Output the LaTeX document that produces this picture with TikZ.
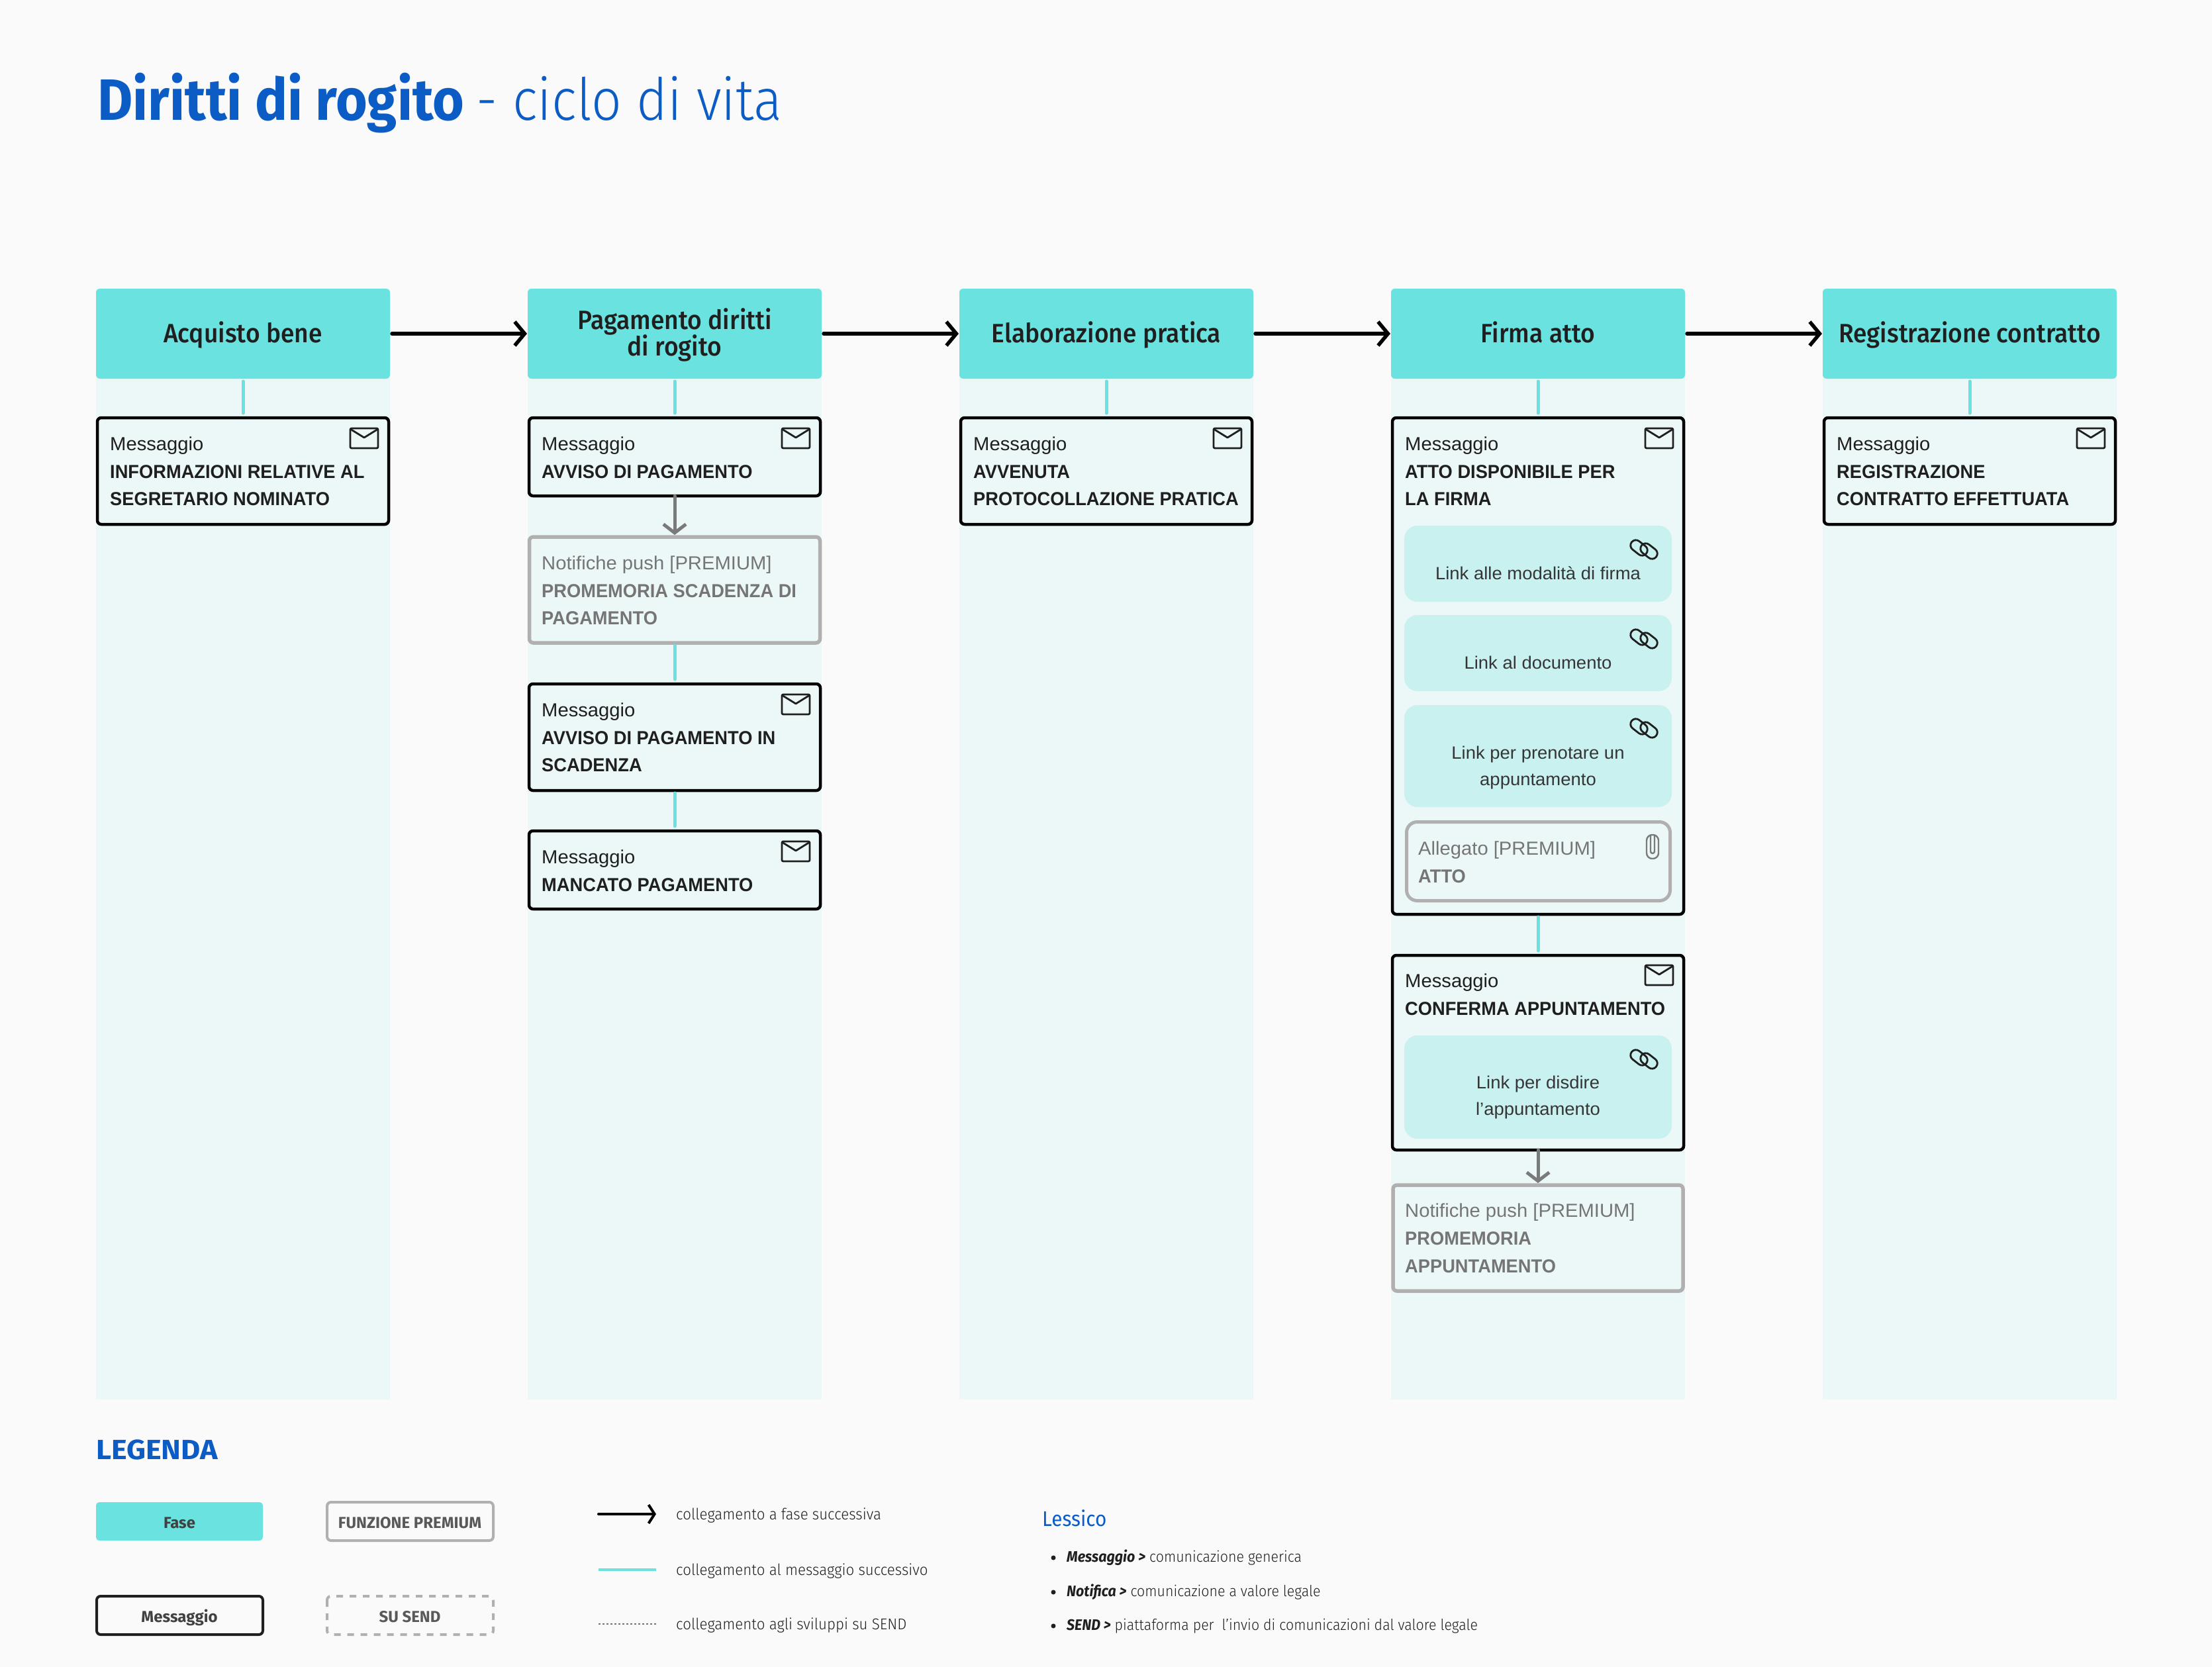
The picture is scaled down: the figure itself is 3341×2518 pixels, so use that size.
\documentclass[tikz,border=0pt]{standalone}
\usepackage{fontspec}
\setmainfont{Liberation Sans}[FakeStretch=1.025,BoldFeatures={FakeStretch=0.957}]
\newfontfamily\tfont{Fira Sans}[FakeStretch=0.93]
\newfontfamily\tlight{Fira Sans Light}[FakeStretch=0.95]
\newfontfamily\ttitle{Fira Sans Light}[FakeStretch=0.91]
\newfontfamily\lexfont{Fira Sans Light}[FakeStretch=0.93]
\newfontfamily\tmed{Fira Sans Medium}[FakeStretch=0.93]
\newfontfamily\tplain{Fira Sans}
\newfontfamily\twide{Fira Sans}[FakeStretch=1.07]
\usetikzlibrary{arrows.meta}
\definecolor{pagebg}{HTML}{FAFAFA}
\definecolor{teal}{HTML}{6AE2E0}
\definecolor{colbg}{HTML}{ECF8F7}
\definecolor{linkbg}{HTML}{C8F1EF}
\definecolor{ink}{HTML}{1F1F1F}
\definecolor{graytext}{HTML}{757575}
\definecolor{grayline}{HTML}{B0B0B0}
\definecolor{grayarrow}{HTML}{7A7A7A}
\definecolor{brand}{HTML}{0B5CC5}
\newcommand{\fs}[1]{\fontsize{#1}{#1}\selectfont}
\newcommand{\ptxt}[1]{\raisebox{0pt}[30pt][4pt]{#1}}
\tikzset{
 x=1pt,y=-1pt,
 phase/.style={fill=teal,rounded corners=6,anchor=north west,minimum width=444,minimum height=136,inner sep=0,outer sep=0,align=center,text=ink,font=\tmed\fs{40}},
 msgbox/.style={draw=black,fill=colbg,line width=4.5,rounded corners=6,anchor=north west,inner sep=0,outer sep=0},
 prembox/.style={draw=grayline,fill=colbg,line width=5.5,rounded corners=6,anchor=north west,inner sep=0,outer sep=0},
 linkbox/.style={fill=linkbg,rounded corners=20},
 lbl/.style={anchor=base west,inner sep=0,text=ink,font=\fs{28.5}},
 bold/.style={anchor=base west,inner sep=0,text=ink,font=\fs{28.5}\bfseries},
 glbl/.style={anchor=base west,inner sep=0,text=graytext,font=\fs{28.5}},
 gbold/.style={anchor=base west,inner sep=0,text=graytext,font=\fs{28.5}\bfseries},
 linktxt/.style={anchor=base,inner sep=0,text=ink!90,font=\fs{26.8}},
 vlink/.style={draw=teal,line width=5,line cap=round,shorten <=4,shorten >=7},
 flow/.style={draw=black,line width=5.5,line cap=round,shorten <=3,shorten >=1,-{Straight Barb[length=15,width=36,line width=5.5]}},
 garrow/.style={draw=grayarrow,line width=5,line cap=round,shorten >=3,-{Straight Barb[length=13,width=34,line width=5]}},
 legtxt/.style={anchor=base west,inner sep=0,text=ink,font=\tlight\fs{23.5}},
 lextxt/.style={anchor=base west,inner sep=0,text=ink,font=\lexfont\fs{23}},
 legbox/.style={anchor=base,inner sep=0,font=\tplain\fs{24}\bfseries},
}
\newcommand{\envelope}[2]{% top-right corner of the icon
 \draw[ink,line width=2.8,rounded corners=2,line join=round] (#1-42,#2) rectangle (#1,#2+30);
 \draw[ink,line width=2.8,line join=round] (#1-42,#2+1) -- (#1-21,#2+14) -- (#1,#2+1);
}
\newcommand{\chainicon}[2]{% centre
 \begin{scope}[shift={(#1,#2)}]
 \draw[ink,line width=2.8,rounded corners=7.9,rotate around={-38:(-7.5,-2.5)}] (-21.5,-10.5) rectangle (6.5,5.5);
 \draw[ink,line width=2.8,rounded corners=7.9,rotate around={-38:(7.5,2.5)}] (-6.5,-5.5) rectangle (21.5,10.5);
 \end{scope}
}
\begin{document}
\begin{tikzpicture}
\useasboundingbox (0,0) rectangle (3341,2518);
\fill[pagebg] (0,0) rectangle (3341,2518);
\node[anchor=base west,inner sep=0,text=brand,font=\fs{88}] (title) at (147,182) {{\tfont\bfseries Diritti di rogito}\hspace{-6pt} {\ttitle - ciclo di vita}};
% columns
\foreach \x in {145,797,1449,2101,2753} \fill[colbg] (\x,436) rectangle (\x+444,2114);
% phases
\node[phase] (p1) at (145,436) {\ptxt{Acquisto bene}};
\node[phase] (p2) at (797,436) {\ptxt{Pagamento diritti}\\\ptxt{di rogito}};
\node[phase] (p3) at (1449,436) {\ptxt{Elaborazione pratica}};
\node[phase] (p4) at (2101,436) {\ptxt{Firma atto}};
\node[phase] (p5) at (2753,436) {\ptxt{Registrazione contratto}};
\draw[flow] (p1) -- (p2);
\draw[flow] (p2) -- (p3);
\draw[flow] (p3) -- (p4);
\draw[flow] (p4) -- (p5);
% Message boxes as named rectangles
\node[msgbox,minimum width=440,minimum height=161] (m1) at (147,631) {};
\node[msgbox,minimum width=440,minimum height=118] (m2) at (799,631) {};
\node[prembox,minimum width=439,minimum height=160] (n2) at (799.5,811) {};
\node[msgbox,minimum width=440,minimum height=161] (m3) at (799,1033) {};
\node[msgbox,minimum width=440,minimum height=118] (m4) at (799,1255) {};
\node[msgbox,minimum width=440,minimum height=161] (m5) at (1451,631) {};
\node[msgbox,minimum width=440,minimum height=750] (m6) at (2103,631) {};
\node[msgbox,minimum width=440,minimum height=294] (m7) at (2103,1443) {};
\node[prembox,minimum width=438,minimum height=160] (n7) at (2104,1790) {};
\node[msgbox,minimum width=440,minimum height=161] (m8) at (2755,631) {};
% connectors
\draw[vlink] (p1) -- (m1);
\draw[vlink] (p2) -- (m2);
\draw[vlink] (p3) -- (m5);
\draw[vlink] (p4) -- (m6);
\draw[vlink] (p5) -- (m8);
\draw[vlink] (n2) -- (m3);
\draw[vlink] (m3) -- (m4);
\draw[vlink] (m6) -- (m7);
\draw[garrow] (m2) -- (n2);
\draw[garrow] (m7) -- (n7);
% msg text col1
\node[lbl] (t1) at (166,680) {Messaggio};
\node[bold] (t2) at (166,722) {INFORMAZIONI RELATIVE AL};
\node[bold] (t3) at (166,763) {SEGRETARIO NOMINATO};
\envelope{571}{647}
% col2
\node[lbl] (t4) at (818,680) {Messaggio};
\node[bold] (t5) at (818,722) {AVVISO DI PAGAMENTO};
\envelope{1223}{647}
\node[glbl] (t6) at (818,860) {Notifiche push [PREMIUM]};
\node[gbold] (t7) at (818,902) {PROMEMORIA SCADENZA DI};
\node[gbold] (t8) at (818,943) {PAGAMENTO};
\node[lbl] (t9) at (818,1082) {Messaggio};
\node[bold] (t10) at (818,1124) {AVVISO DI PAGAMENTO IN};
\node[bold] (t11) at (818,1165) {SCADENZA};
\envelope{1223}{1049}
\node[lbl] (t12) at (818,1304) {Messaggio};
\node[bold] (t13) at (818,1346) {MANCATO PAGAMENTO};
\envelope{1223}{1271}
% col3
\node[lbl] (t14) at (1470,680) {Messaggio};
\node[bold] (t15) at (1470,722) {AVVENUTA};
\node[bold] (t16) at (1470,763) {PROTOCOLLAZIONE PRATICA};
\envelope{1875}{647}
% col4
\node[lbl] (t17) at (2122,680) {Messaggio};
\node[bold] (t18) at (2122,722) {ATTO DISPONIBILE PER};
\node[bold] (t19) at (2122,763) {LA FIRMA};
\envelope{2527}{647}
\fill[linkbox] (2121,794) rectangle (2525,909);
\fill[linkbox] (2121,929) rectangle (2525,1044);
\fill[linkbox] (2121,1065) rectangle (2525,1219);
\fill[linkbox] (2121,1564) rectangle (2525,1720);
\chainicon{2483}{830}
\chainicon{2483}{965}
\chainicon{2483}{1100}
\chainicon{2483}{1600}
\node[linktxt] (l1) at (2323,875) {Link alle modalità di firma};
\node[linktxt] (l2) at (2323,1010) {Link al documento};
\node[linktxt] (l3) at (2323,1146) {Link per prenotare un};
\node[linktxt] (l4) at (2323,1186) {appuntamento};
\node[linktxt] (l5) at (2323,1644) {Link per disdire};
\node[linktxt] (l6) at (2323,1684) {l’appuntamento};
\draw[grayline,line width=5,rounded corners=16] (2124.5,1241.5) rectangle (2522.5,1360.5);
\node[glbl] (t20) at (2142,1291) {Allegato [PREMIUM]};
\node[gbold] (t21) at (2142,1333) {ATTO};
\draw[grayarrow,line width=2.4,rounded corners=8.5] (2487,1261) rectangle (2505,1297);
\draw[grayarrow,line width=2.4,line cap=round] (2493,1262) -- (2493,1286) arc (180:0:3) -- (2499,1262);
\node[lbl] (t22) at (2122,1491) {Messaggio};
\node[bold] (t23) at (2122,1533) {CONFERMA APPUNTAMENTO};
\envelope{2527}{1458}
\node[glbl] (t24) at (2122,1838) {Notifiche push [PREMIUM]};
\node[gbold] (t25) at (2122,1880) {PROMEMORIA};
\node[gbold] (t26) at (2122,1922) {APPUNTAMENTO};
% col5
\node[lbl] (t27) at (2774,680) {Messaggio};
\node[bold] (t28) at (2774,722) {REGISTRAZIONE};
\node[bold] (t29) at (2774,763) {CONTRATTO EFFETTUATA};
\envelope{3179}{647}
% legend
\node[anchor=base west,inner sep=0,text=brand,font=\twide\fs{42}\bfseries] (leg) at (145,2204) {LEGENDA};
\fill[teal,rounded corners=5] (145,2269) rectangle (397,2327);
\node[legbox,text=ink!85] (lg1) at (271,2308) {Fase};
\draw[grayline,line width=4,rounded corners=6] (494,2269) rectangle (745,2327);
\node[legbox,text=black!65] (lg2) at (619,2308) {FUNZIONE PREMIUM};
\draw[ink,line width=4,rounded corners=6] (146,2411) rectangle (397,2469);
\node[legbox,text=ink!85] (lg3) at (271,2450) {Messaggio};
\draw[grayline,line width=4,rounded corners=6,dash pattern=on 10 off 10] (494,2411) rectangle (745,2469);
\node[legbox,text=black!65] (lg4) at (619,2450) {SU SEND};
\coordinate (k1) at (904,2287); \coordinate (k2) at (991,2287);
\coordinate (k3) at (904,2371); \coordinate (k4) at (991,2371);
\coordinate (k5) at (904,2453); \coordinate (k6) at (991,2453);
\draw[black,line width=4,line cap=round,-{Straight Barb[length=9,width=28,line width=4]}] (k1) -- (k2);
\draw[teal,line width=4] (k3) -- (k4);
\draw[black!55,line width=2,dash pattern=on 3 off 3] (k5) -- (k6);
\node[legtxt] (lt1) at (1021,2295) {collegamento a fase successiva};
\node[legtxt] (lt2) at (1021,2379) {collegamento al messaggio successivo};
\node[legtxt] (lt3) at (1021,2461) {collegamento agli sviluppi su SEND};
% lessico
\node[anchor=base west,inner sep=0,text=brand,font=\tfont\fs{32}] (lex) at (1574,2305) {Lessico};
\foreach \y in {2353,2405,2456} \fill[ink] (1591,\y) circle (3.5);
\node[lextxt] (lx1) at (1611,2359) {{\tfont\bfseries\itshape Messaggio >} comunicazione generica};
\node[lextxt] (lx2) at (1611,2411) {{\tfont\bfseries\itshape Notifica >} comunicazione a valore legale};
\node[lextxt] (lx3) at (1611,2462) {{\tfont\bfseries\itshape SEND >} piattaforma per\ \ l’invio di comunicazioni dal valore legale};
\end{tikzpicture}
\end{document}
